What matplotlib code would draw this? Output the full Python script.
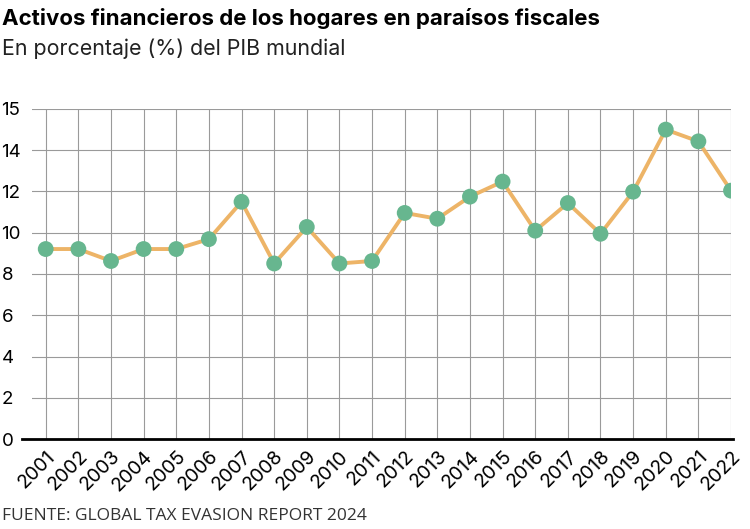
import matplotlib
matplotlib.use("Agg")
import matplotlib.pyplot as plt

# values
years = list(range(2001, 2023))
share = [9.21, 9.21, 8.63, 9.21, 9.21, 9.69, 11.50, 8.51, 10.28, 8.51, 8.63,
         10.96, 10.68, 11.75, 12.48, 10.10, 11.44, 9.95, 11.99, 15.0, 14.43, 12.04]

y_ticks = [0, 2, 4, 6, 8, 10, 12, 14, 16]
y_labels = ["0", "2", "4", "6", "8", "10", "12", "14", "15"]

title = "Activos financieros de los hogares en paraísos fiscales"
subtitle = "En porcentaje (%) del PIB mundial"
source = "FUENTE: GLOBAL TAX EVASION REPORT 2024"

line_color = "#EDB467"
dot_color = "#67B68F"

plt.rcParams["font.family"] = ["Inter", "DejaVu Sans"]

fig = plt.figure(figsize=(7.5, 5.29), dpi=100)
ax = fig.add_axes([0.0427, 0.1701, 0.932, 0.6239])

ax.plot(years, share, color=line_color, lw=2.8, zorder=3)
ax.scatter(years, share, s=130, color=dot_color, edgecolor="none", zorder=4)

ax.set_xlim(2000.58, 2022)
ax.set_ylim(0, 16)
ax.set_xticks(years)
ax.set_xticklabels([str(y) for y in years], rotation=45, ha="right",
                   rotation_mode="anchor", fontsize=14)
ax.set_yticks(y_ticks)
ax.set_yticklabels(y_labels, fontsize=13.5, ha="left")
ax.tick_params(axis="y", length=0, pad=22)
ax.tick_params(axis="x", length=0, pad=6)

ax.grid(True, color="#9a9a9a", lw=0.8)
for s in ax.spines.values():
    s.set_visible(False)
ax.axhline(0, xmin=-0.0145, xmax=1.003, color="black", lw=2, clip_on=False, zorder=5)

fig.text(0.003, 0.985, title, fontsize=16, fontweight="bold", va="top", ha="left")
fig.text(0.003, 0.928, subtitle, fontsize=15.4, va="top", ha="left", color="#222222")
fig.text(0.003, 0.024, source, fontsize=12.5, va="center", ha="left", color="#333333",
         family=["Open Sans", "DejaVu Sans"])

fig.savefig("out.png", dpi=100)
